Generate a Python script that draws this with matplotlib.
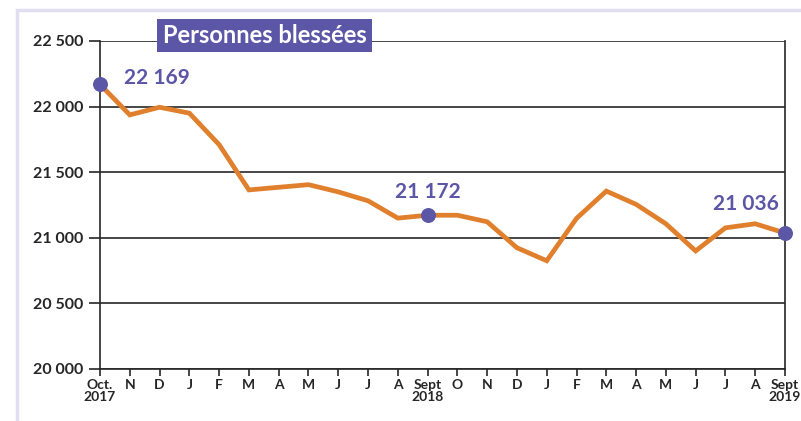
import matplotlib.pyplot as plt
import matplotlib.patches as patches
from matplotlib.ticker import FuncFormatter

# Monthly counts, Oct. 2017 -> Sept 2019
months = ['Oct.\n2017', 'N', 'D', 'J', 'F', 'M', 'A', 'M', 'J', 'J', 'A', 'Sept\n2018',
          'O', 'N', 'D', 'J', 'F', 'M', 'A', 'M', 'J', 'J', 'A', 'Sept\n2019']
injured = [22169, 21937, 21995, 21950, 21710, 21365, 21385, 21405, 21350, 21282, 21150, 21172,
           21172, 21122, 20924, 20825, 21148, 21356, 21255, 21107, 20900, 21076, 21107, 21036]
highlight_idx = [0, 11, 23]
highlight_labels = ['22 169', '21 172', '21 036']

purple = '#5B57A6'
orange = '#E07F2C'
dark = '#262626'
plt.rcParams['font.family'] = ['Lato', 'DejaVu Sans']

fig = plt.figure(figsize=(8.01, 4.21), dpi=100)
W, H = 801, 421
ax = fig.add_axes([100 / W, 1 - 369 / H, 685 / W, 328 / H])

x = list(range(len(injured)))
ax.plot(x, injured, color=orange, lw=3.4, solid_joinstyle='miter', zorder=3)
ax.scatter([x[i] for i in highlight_idx], [injured[i] for i in highlight_idx],
           s=95, color=purple, zorder=4, clip_on=False)

offsets = [(0.8, 0, 'left'), (0, 135, 'center'), (-0.2, 175, 'right')]
for i, lab, (dx, dy, ha) in zip(highlight_idx, highlight_labels, offsets):
    ax.text(x[i] + dx, injured[i] + dy, lab, color=purple, fontsize=15,
            fontweight='bold', ha=ha, va='baseline')

ax.set_xlim(0, len(injured) - 1)
ax.set_ylim(20000, 22500)
ax.set_yticks(range(20000, 22501, 500))
ax.yaxis.set_major_formatter(FuncFormatter(lambda v, p: f'{int(v):,}'.replace(',', ' ')))
ax.set_xticks(x)
ax.set_xticklabels(months, fontsize=10, fontweight='bold', color=dark, linespacing=1.0)
for t in ax.get_yticklabels():
    t.set_fontsize(11.5)
    t.set_fontweight('bold')
    t.set_color(dark)

ax.grid(axis='y', color=dark, lw=1.2, zorder=1)
ax.tick_params(axis='y', length=8, width=1.2, color=dark, pad=4)
ax.tick_params(axis='x', length=5, width=1.2, color=dark, pad=2)
for s in ['left', 'right', 'bottom']:
    ax.spines[s].set_color(dark)
    ax.spines[s].set_linewidth(1.2)
ax.spines['top'].set_visible(False)

# title box
fig.patches.append(patches.Rectangle((157 / W, 1 - 52 / H), 215 / W, 33 / H,
                                     transform=fig.transFigure, facecolor=purple,
                                     edgecolor='none', zorder=5))
fig.text(264.5 / W, 1 - 35.5 / H, 'Personnes blessées', ha='center', va='center',
         fontsize=17, fontweight='bold', color='white', zorder=6)

# light outer frame
fig.patches.append(patches.Rectangle((17 / W, -0.05), 1.2, 1 - 10 / H + 0.05,
                                     transform=fig.transFigure, fill=False,
                                     edgecolor='#E0DEF0', lw=2.5))

fig.savefig('out.png', dpi=100)
